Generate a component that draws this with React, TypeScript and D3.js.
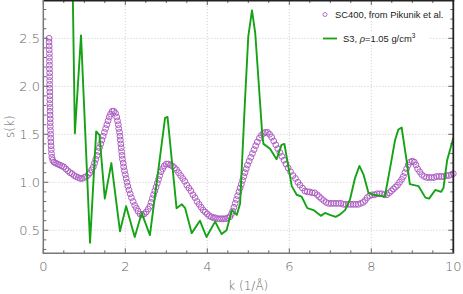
import * as d3 from "d3";
import { useEffect } from "react";

// SC400 reference data (k, s)
const sc400: [number, number][] = [
  [0.14, 2.5], [0.14, 2.46], [0.145, 2.42], [0.145, 2.38], [0.15, 2.34], [0.15, 2.3], [0.15, 2.26], [0.15, 2.22],
  [0.15, 2.18], [0.155, 2.14], [0.155, 2.1], [0.155, 2.06], [0.155, 2.02], [0.155, 1.98], [0.16, 1.94], [0.16, 1.9],
  [0.16, 1.86], [0.16, 1.82], [0.165, 1.78], [0.165, 1.74], [0.165, 1.7], [0.17, 1.66], [0.17, 1.62], [0.17, 1.58],
  [0.175, 1.54], [0.18, 1.5], [0.18, 1.46], [0.185, 1.42], [0.19, 1.38], [0.195, 1.34], [0.2, 1.3], [0.21, 1.26],
  [0.23, 1.23], [0.26, 1.21], [0.3, 1.2], [0.35, 1.19], [0.4, 1.18], [0.45, 1.17], [0.5, 1.16], [0.55, 1.14],
  [0.6, 1.12], [0.65, 1.1], [0.7, 1.09], [0.75, 1.07], [0.8, 1.06], [0.85, 1.05], [0.9, 1.04], [0.95, 1.04],
  [1.0, 1.05], [1.05, 1.06], [1.1, 1.08], [1.14, 1.1], [1.18, 1.13], [1.22, 1.16], [1.25, 1.2], [1.28, 1.24],
  [1.31, 1.28], [1.34, 1.32], [1.37, 1.36], [1.4, 1.4], [1.43, 1.44], [1.46, 1.48], [1.49, 1.52], [1.52, 1.56],
  [1.55, 1.6], [1.58, 1.64], [1.61, 1.68], [1.64, 1.71], [1.68, 1.74], [1.72, 1.74], [1.76, 1.72], [1.79, 1.68],
  [1.81, 1.64], [1.83, 1.6], [1.84, 1.56], [1.86, 1.52], [1.87, 1.48], [1.88, 1.44], [1.89, 1.4], [1.9, 1.36],
  [1.91, 1.32], [1.92, 1.28], [1.93, 1.24], [1.95, 1.2], [1.96, 1.16], [1.98, 1.12], [2.0, 1.08], [2.02, 1.04],
  [2.04, 1.0], [2.06, 0.96], [2.09, 0.92], [2.12, 0.88], [2.15, 0.84], [2.19, 0.8], [2.23, 0.76], [2.27, 0.73],
  [2.31, 0.7], [2.36, 0.67], [2.41, 0.66], [2.46, 0.67], [2.51, 0.69], [2.56, 0.72], [2.6, 0.75], [2.63, 0.79],
  [2.66, 0.83], [2.69, 0.87], [2.72, 0.91], [2.75, 0.95], [2.78, 0.99], [2.81, 1.03], [2.84, 1.07], [2.87, 1.11],
  [2.91, 1.14], [2.95, 1.17], [3.0, 1.19], [3.05, 1.19], [3.1, 1.18], [3.15, 1.17], [3.2, 1.15], [3.25, 1.13],
  [3.3, 1.1], [3.35, 1.07], [3.4, 1.04], [3.45, 1.01], [3.5, 0.97], [3.55, 0.94], [3.6, 0.91], [3.65, 0.87],
  [3.7, 0.84], [3.75, 0.8], [3.8, 0.77], [3.85, 0.74], [3.9, 0.71], [3.95, 0.69], [4.0, 0.67], [4.05, 0.65],
  [4.1, 0.64], [4.15, 0.63], [4.2, 0.63], [4.25, 0.62], [4.3, 0.62], [4.35, 0.62], [4.4, 0.62], [4.45, 0.62],
  [4.5, 0.63], [4.55, 0.64], [4.59, 0.67], [4.62, 0.7], [4.65, 0.74], [4.68, 0.78], [4.71, 0.82], [4.74, 0.86],
  [4.77, 0.9], [4.8, 0.94], [4.83, 0.98], [4.86, 1.02], [4.89, 1.06], [4.92, 1.1], [4.95, 1.14], [4.98, 1.18],
  [5.02, 1.22], [5.06, 1.26], [5.1, 1.3], [5.14, 1.34], [5.18, 1.38], [5.22, 1.42], [5.27, 1.46], [5.32, 1.49],
  [5.37, 1.51], [5.42, 1.52], [5.47, 1.52], [5.52, 1.5], [5.57, 1.47], [5.62, 1.43], [5.67, 1.39], [5.72, 1.35],
  [5.77, 1.31], [5.82, 1.27], [5.87, 1.23], [5.92, 1.19], [5.97, 1.15], [6.03, 1.11], [6.09, 1.07], [6.15, 1.04],
  [6.21, 1.0], [6.26, 0.97], [6.32, 0.94], [6.38, 0.91], [6.44, 0.9], [6.5, 0.9], [6.56, 0.89], [6.62, 0.89],
  [6.68, 0.87], [6.73, 0.85], [6.78, 0.83], [6.84, 0.81], [6.9, 0.79], [6.96, 0.78], [7.02, 0.78], [7.08, 0.78],
  [7.14, 0.78], [7.2, 0.78], [7.26, 0.78], [7.32, 0.77], [7.38, 0.77], [7.44, 0.77], [7.5, 0.77], [7.56, 0.77],
  [7.62, 0.77], [7.68, 0.77], [7.74, 0.78], [7.8, 0.79], [7.85, 0.81], [7.9, 0.84], [7.96, 0.86], [8.02, 0.87],
  [8.08, 0.87], [8.14, 0.88], [8.2, 0.88], [8.26, 0.88], [8.32, 0.87], [8.38, 0.87], [8.44, 0.89], [8.49, 0.91],
  [8.54, 0.93], [8.59, 0.95], [8.64, 0.97], [8.69, 1.0], [8.74, 1.03], [8.78, 1.06], [8.82, 1.1], [8.86, 1.14],
  [8.9, 1.18], [8.95, 1.21], [9.0, 1.22], [9.05, 1.21], [9.09, 1.18], [9.13, 1.14], [9.18, 1.11], [9.23, 1.08],
  [9.29, 1.06], [9.35, 1.05], [9.41, 1.05], [9.47, 1.05], [9.53, 1.05], [9.59, 1.06], [9.65, 1.06], [9.71, 1.06],
  [9.77, 1.06], [9.83, 1.07], [9.89, 1.07], [9.95, 1.08], [10.0, 1.09],
];

// S3 simulation (k, s)
const s3: [number, number][] = [
  [0.7, 3.5], [0.77, 1.51], [0.92, 2.53], [1.14, 0.37], [1.29, 1.53], [1.37, 1.49], [1.5, 0.83], [1.66, 1.2],
  [1.87, 0.49], [2.02, 0.75], [2.23, 0.43], [2.4, 0.68], [2.6, 0.45], [2.97, 1.67], [3.03, 1.68], [3.25, 0.73],
  [3.38, 0.77], [3.46, 0.73], [3.62, 0.47], [3.82, 0.6], [3.98, 0.43], [4.19, 0.59], [4.35, 0.46], [4.47, 0.5],
  [4.6, 0.71], [4.72, 0.66], [4.8, 0.78], [4.92, 1.86], [5.0, 2.52], [5.09, 2.79], [5.17, 2.55], [5.34, 1.5],
  [5.37, 1.4], [5.53, 1.35], [5.69, 1.24], [5.81, 1.39], [5.88, 1.4], [6.06, 0.96], [6.18, 0.87], [6.3, 0.85],
  [6.44, 0.73], [6.59, 0.71], [6.77, 0.65], [6.87, 0.68], [6.99, 0.66], [7.13, 0.64], [7.22, 0.66], [7.36, 0.71],
  [7.48, 0.82], [7.6, 1.04], [7.71, 1.17], [7.81, 1.08], [7.93, 0.89], [8.05, 0.87], [8.33, 0.85], [8.48, 1.2],
  [8.58, 1.44], [8.66, 1.55], [8.74, 1.57], [8.86, 1.23], [8.94, 0.98], [9.15, 0.96], [9.32, 0.84], [9.41, 0.83],
  [9.56, 0.92], [9.7, 0.9], [9.76, 0.94], [9.85, 1.23], [10.0, 1.46],
];

const legendLabels = ["SC400, from Pikunik et al.", "S3, "];

const width = 463;
const height = 294;
const left = 43.3;
const right = 453.3;
const bottom = 253.3;
const tickFont = "'DejaVu Sans', sans-serif";
const purple = "#ad5cc2";
const green = "#15a315";

export default function App() {
  useEffect(() => {
    document.body.style.margin = "0";
  }, []);

  const x = d3.scaleLinear([0, 10], [left, right]);
  const y = d3.scaleLinear([0.26, 2.9], [bottom, -0.1]);
  const line = d3.line<[number, number]>((d) => x(d[0]), (d) => y(d[1]));

  const xMajor = x.ticks(5);
  const xMinor = x.ticks(20).filter((t) => !xMajor.includes(t));
  const yMajor = y.ticks(5);
  const yMinor = y.ticks(25).filter((t) => !yMajor.some((m) => Math.abs(m - t) < 1e-9));
  const fy = d3.format(".1f");

  return (
    <svg width={width} height={height} style={{ position: "absolute", left: 0, top: 0 }}>
      <defs>
        <clipPath id="plot">
          <rect x={left} y={0} width={right - left} height={bottom} />
        </clipPath>
      </defs>
      <rect width={width} height={height} fill="white" />

      {/* grid */}
      <g stroke="#c8c8c8" strokeWidth={0.8} strokeDasharray="1.2,1.8">
        {xMajor.filter((t) => t > 0 && t < 10).map((t) => (
          <line key={"gx" + t} x1={x(t)} x2={x(t)} y1={0} y2={bottom} />
        ))}
        {yMajor.map((t) => (
          <line key={"gy" + t} x1={left} x2={right} y1={y(t)} y2={y(t)} />
        ))}
      </g>

      {/* SC400 circles */}
      <g fill="none" stroke={purple} strokeWidth={1}>
        {sc400.map((d, i) => (
          <circle key={i} cx={x(d[0])} cy={y(d[1])} r={2.9} />
        ))}
      </g>

      {/* S3 line */}
      <path d={line(s3) ?? ""} fill="none" stroke={green} strokeWidth={1.9} strokeLinejoin="round" clipPath="url(#plot)" />

      {/* legend */}
      <rect x={320} y={32} width={110} height={13} fill="white" />
      <circle cx={325} cy={14.5} r={2} fill="none" stroke={purple} strokeWidth={0.9} />
      <text x={335} y={18} fontFamily="'Liberation Sans', Arial, sans-serif" fontSize={9.4} fill="#222">
        {legendLabels[0]}
      </text>
      <line x1={323} x2={337} y1={38.5} y2={38.5} stroke={green} strokeWidth={1.8} />
      <text x={343} y={42} fontFamily="'Liberation Sans', Arial, sans-serif" fontSize={9.4} fill="#222">
        {legendLabels[1]}
        <tspan fontStyle="italic">ρ</tspan>=1.05 g/cm<tspan fontSize={6.5} dy={-4}>3</tspan>
      </text>

      {/* ticks */}
      <g stroke="#555" strokeWidth={0.9}>
        {xMajor.map((t) => (
          <g key={"tx" + t}>
            <line x1={x(t)} x2={x(t)} y1={bottom} y2={bottom - 5} />
            <line x1={x(t)} x2={x(t)} y1={0} y2={5} />
          </g>
        ))}
        {xMinor.map((t) => (
          <g key={"mx" + t}>
            <line x1={x(t)} x2={x(t)} y1={bottom} y2={bottom - 3} />
            <line x1={x(t)} x2={x(t)} y1={0} y2={3} />
          </g>
        ))}
        {yMajor.map((t) => (
          <g key={"ty" + t}>
            <line x1={left} x2={left + 5} y1={y(t)} y2={y(t)} />
            <line x1={right} x2={right - 5} y1={y(t)} y2={y(t)} />
          </g>
        ))}
        {yMinor.map((t) => (
          <g key={"my" + t}>
            <line x1={left} x2={left + 3} y1={y(t)} y2={y(t)} />
            <line x1={right} x2={right - 3} y1={y(t)} y2={y(t)} />
          </g>
        ))}
      </g>

      {/* frame */}
      <line x1={left} x2={right + 1} y1={0.5} y2={0.5} stroke="#222" strokeWidth={2} />
      <line x1={right} x2={right} y1={0} y2={bottom} stroke="#222" strokeWidth={1.8} />
      <line x1={left} x2={left} y1={0} y2={bottom + 0.7} stroke="#777" strokeWidth={1.5} />
      <line x1={left} x2={right + 0.9} y1={bottom} y2={bottom} stroke="#777" strokeWidth={1.5} />

      {/* tick labels */}
      <g fontFamily={tickFont} fontSize={13} fill="#666" fontWeight={300}>
        {xMajor.map((t) => (
          <text key={"lx" + t} x={x(t)} y={271} textAnchor="middle">
            {t}
          </text>
        ))}
        {yMajor.map((t) => (
          <text key={"ly" + t} x={40} y={y(t) + 4.5} textAnchor="end">
            {fy(t)}
          </text>
        ))}
      </g>

      {/* axis titles */}
      <text x={(left + right) / 2} y={290} textAnchor="middle" fontFamily={tickFont} fontSize={12} fill="#666" fontWeight={300}>
        k (1/Å)
      </text>
      <text
        transform={`translate(14,${bottom / 2}) rotate(-90)`}
        textAnchor="middle"
        fontFamily={tickFont}
        fontSize={12}
        fill="#666"
        fontWeight={300}
      >
        s(k)
      </text>
    </svg>
  );
}
